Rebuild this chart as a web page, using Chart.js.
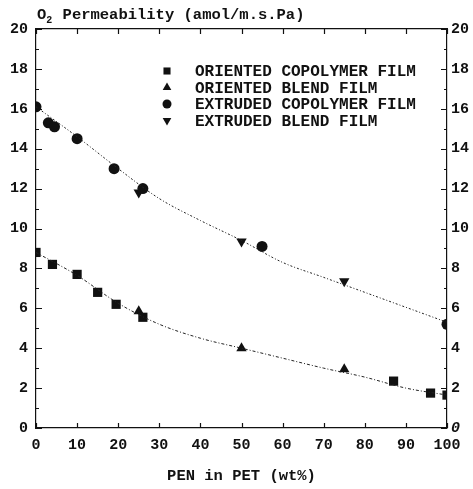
<!DOCTYPE html>
<html><head><meta charset="utf-8">
<script src="https://cdn.jsdelivr.net/npm/chart.js@4/dist/chart.umd.min.js"></script>
<style>html,body{margin:0;padding:0;background:#fff}#wrap{position:relative;width:473px;height:489px}</style>
</head><body><div id="wrap"><canvas id="c" width="473" height="489"></canvas></div>
<script>
const seriesNames = ['ORIENTED COPOLYMER FILM','ORIENTED BLEND FILM','EXTRUDED COPOLYMER FILM','EXTRUDED BLEND FILM'];
const orientedCopolymerX = [0, 4, 10, 15, 19.5, 26, 87, 96, 100];
const orientedCopolymerY = [8.8, 8.2, 7.7, 6.8, 6.2, 5.55, 2.35, 1.75, 1.65];
const orientedBlendX = [25, 50, 75];
const orientedBlendY = [5.85, 4.0, 2.95];
const extrudedCopolymerX = [0, 3, 4.5, 10, 19, 26, 55, 100];
const extrudedCopolymerY = [16.1, 15.3, 15.1, 14.5, 13.0, 12.0, 9.1, 5.2];
const extrudedBlendX = [25, 50, 75];
const extrudedBlendY = [11.8, 9.35, 7.35];
const fitX = [0, 10, 20, 30, 40, 50, 60, 70, 80, 90, 100];
const fitExtrudedY = [16.1, 14.6, 13.0, 11.5, 10.4, 9.4, 8.3, 7.55, 6.8, 6.05, 5.3];
const fitOrientedY = [8.8, 7.65, 6.25, 5.2, 4.5, 4.0, 3.5, 3.0, 2.55, 2.0, 1.65];
const xTickValues = [0, 10, 20, 30, 40, 50, 60, 70, 80, 90, 100];
const yTickValues = [0, 2, 4, 6, 8, 10, 12, 14, 16, 18, 20];
const xTitle = 'PEN in PET (wt%)';
const yTitleParts = ['O', '2', ' Permeability (amol/m.s.Pa)'];

const FONT = 'Liberation Mono';
const INK = '#111';
const pts = (xs, ys) => xs.map((x, i) => ({x, y: ys[i]}));

function markerDs(label, xs, ys, style, radius, rotation) {
  return {label, data: pts(xs, ys), showLine: false, pointStyle: style, pointRadius: radius,
    pointRotation: rotation, backgroundColor: INK, borderColor: INK, borderWidth: 0, pointHoverRadius: radius};
}
function fitDs(ys, dash) {
  return {label: '', data: pts(fitX, ys), showLine: true, pointRadius: 0, borderColor: '#222',
    borderWidth: 1, borderDash: dash, cubicInterpolationMode: 'monotone', fill: false, isFit: true};
}

const datasets = [
  fitDs(fitExtrudedY, [2, 2, 1, 2]),
  fitDs(fitOrientedY, [3, 2, 1, 2]),
  markerDs(seriesNames[0], orientedCopolymerX, orientedCopolymerY, 'rect', 6.5, 0),
  markerDs(seriesNames[1], orientedBlendX, orientedBlendY, 'triangle', 6, 0),
  markerDs(seriesNames[2], extrudedCopolymerX, extrudedCopolymerY, 'circle', 5.5, 0),
  markerDs(seriesNames[3], extrudedBlendX, extrudedBlendY, 'triangle', 6, 180),
];

const BOX = {left: 36, right: 26, top: 29, bottom: 61};

const setTicks = (vals) => (scale) => { scale.ticks = vals.map(v => ({value: v})); };

const decor = {
  id: 'decor',
  afterDraw(chart) {
    const ctx = chart.ctx;
    const x = chart.scales.x, y = chart.scales.y;
    const a = chart.chartArea;
    ctx.save();
    ctx.strokeStyle = INK; ctx.lineWidth = 1.2;
    ctx.beginPath();
    for (let v = y.min; v <= y.max; v += 1) {
      const py = Math.round(y.getPixelForValue(v)) + 0.5;
      const len = (v % 2 === 0) ? 6 : 3;
      ctx.moveTo(a.left, py); ctx.lineTo(a.left + len, py);
      ctx.moveTo(a.right, py); ctx.lineTo(a.right - len, py);
    }
    xTickValues.forEach(v => {
      const px = Math.round(x.getPixelForValue(v)) + 0.5;
      ctx.moveTo(px, a.bottom); ctx.lineTo(px, a.bottom - 5);
      ctx.moveTo(px, a.top); ctx.lineTo(px, a.top + 5);
    });
    ctx.stroke();
    // y-axis title
    ctx.fillStyle = INK;
    ctx.textBaseline = 'alphabetic';
    ctx.textAlign = 'left';
    let tx = a.left + 1, ty = 19;
    ctx.font = 'bold 15.5px ' + FONT;
    ctx.fillText(yTitleParts[0], tx, ty); tx += ctx.measureText(yTitleParts[0]).width;
    ctx.font = 'bold 10px ' + FONT;
    ctx.fillText(yTitleParts[1], tx, ty + 4); tx += ctx.measureText(yTitleParts[1]).width + 1;
    ctx.font = 'bold 15.5px ' + FONT;
    ctx.fillText(yTitleParts[2], tx, ty);
    // legend
    const lx = 167, ly0 = 71, dy = 16.5;
    chart.data.datasets.filter(d => !d.isFit).forEach((d, i) => {
      const cy = ly0 + i * dy;
      const opts = {pointStyle: d.pointStyle, radius: d.pointStyle === 'circle' ? 4.5 : 5, rotation: d.pointRotation, borderWidth: 0};
      ctx.fillStyle = INK; ctx.strokeStyle = INK;
      if (Chart.helpers && Chart.helpers.drawPoint) Chart.helpers.drawPoint(ctx, opts, lx, cy);
      ctx.font = 'bold 16px ' + FONT;
      ctx.textBaseline = 'middle';
      ctx.fillText(d.label, 195, cy + 1);
    });
    ctx.restore();
  }
};

new Chart(document.getElementById('c'), {
  type: 'scatter',
  data: {datasets},
  plugins: [decor],
  options: {
    responsive: false, animation: false,
    layout: {padding: 0},
    plugins: {legend: {display: false}, tooltip: {enabled: false}},
    scales: {
      x: {type: 'linear', position: 'bottom', min: 0, max: 100,
        afterBuildTicks: setTicks(xTickValues),
        afterFit: s => { s.height = BOX.bottom; },
        grid: {display: false, drawTicks: false},
        border: {display: true, color: INK, width: 1.2},
        ticks: {color: INK, padding: 8, maxRotation: 0, font: {family: FONT, size: 15, weight: 'bold'}},
        title: {display: true, text: xTitle, color: INK, padding: {top: 0, bottom: 4},
          font: {family: FONT, size: 15.5, weight: 'bold'}}},
      x2: {type: 'linear', position: 'top', min: 0, max: 100,
        afterFit: s => { s.height = BOX.top; },
        grid: {display: false, drawTicks: false},
        border: {display: true, color: INK, width: 1.2},
        ticks: {display: false}},
      y: {type: 'linear', position: 'left', min: 0, max: 20,
        afterBuildTicks: setTicks(yTickValues),
        afterFit: s => { s.width = BOX.left; },
        grid: {display: false, drawTicks: false},
        border: {display: true, color: INK, width: 1.2},
        ticks: {color: INK, padding: 8, font: {family: FONT, size: 15, weight: 'bold'}}},
      y2: {type: 'linear', position: 'right', min: 0, max: 20,
        afterBuildTicks: setTicks(yTickValues),
        afterFit: s => { s.width = BOX.right; },
        grid: {display: false, drawTicks: false},
        border: {display: true, color: INK, width: 1.2},
        ticks: {color: INK, padding: 4,
          font: (c) => ({family: FONT, size: 15, weight: 'bold', style: (c.tick && c.tick.value === 0) ? 'italic' : 'normal'})}}
    }
  }
});
</script></body></html>
